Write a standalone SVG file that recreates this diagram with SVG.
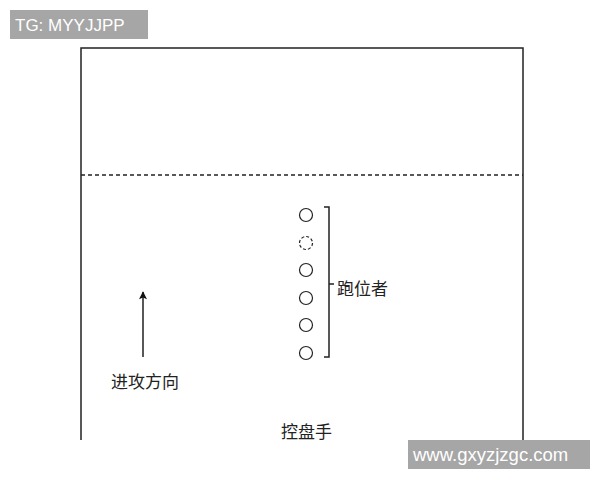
<svg xmlns="http://www.w3.org/2000/svg" width="600" height="480" viewBox="0 0 600 480">
<defs>
<style>
.ln{stroke:#222;stroke-width:1.5;fill:none}
.cir{stroke:#222;stroke-width:1.2;fill:#fff}
.cn{font-family:"Noto Sans CJK SC",serif;font-size:17px;fill:#222}
.wm{font-family:"Liberation Sans",Arial,sans-serif;fill:#fff}
</style>
<marker id="ah" viewBox="0 0 10 10" refX="9" refY="5" markerWidth="10" markerHeight="8" markerUnits="userSpaceOnUse" orient="auto">
<path d="M0,0 L10,5 L0,10 L2,5 Z" fill="#111"/>
</marker>
</defs>
<rect width="600" height="480" fill="#fff"/>
<g id="field">
<path class="ln" d="M81,440 V48 H523 V440"/>
<line x1="81" y1="175" x2="523" y2="175" stroke="#222" stroke-width="1.3" stroke-dasharray="4,3"/>
</g>
<g id="connectors">
<line x1="143" y1="357" x2="143" y2="292" stroke="#111" stroke-width="1.4" marker-end="url(#ah)"/>
<path class="ln" d="M324,207 H329 V357 H324 M329,284 H334" stroke-width="1.4"/>
</g>
<g id="runners">
<circle class="cir" cx="306" cy="215" r="6.5"/>
<circle class="cir" cx="306" cy="243" r="6.5" stroke-dasharray="3,2"/>
<circle class="cir" cx="306" cy="270" r="6.5"/>
<circle class="cir" cx="306" cy="298" r="6.5"/>
<circle class="cir" cx="306" cy="325" r="6.5"/>
<circle class="cir" cx="306" cy="353" r="6.5"/>
</g>
<g id="label-runners"><text class="cn" x="337" y="295" font-size="18">跑位者</text></g>
<g id="label-direction"><text class="cn" x="111" y="388">进攻方向</text></g>
<g id="label-handler"><text class="cn" x="281" y="438">控盘手</text></g>
<g id="wm1">
<rect x="10" y="10" width="138" height="29" fill="#a6a6a6"/>
<text class="wm" x="15" y="31" font-size="17">TG: MYYJJPP</text>
</g>
<g id="wm2">
<rect x="408" y="440" width="182" height="29" fill="#a6a6a6"/>
<text class="wm" x="413" y="461" font-size="18.5">www.gxyzjzgc.com</text>
</g>
</svg>
